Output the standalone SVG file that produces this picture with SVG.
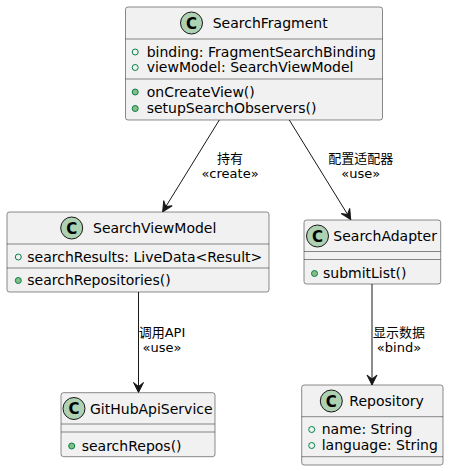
<svg xmlns="http://www.w3.org/2000/svg" width="449" height="471" viewBox="0 0 449 471">
<style>
.box{fill:#F1F1F1;stroke:#181818;stroke-width:0.5;}
.sep{stroke:#181818;stroke-width:0.5;}
.ci{fill:#ADD1B2;stroke:#181818;stroke-width:1;}
.cl{font-family:"DejaVu Sans",sans-serif;font-size:15px;font-weight:bold;fill:#000;text-anchor:middle;}
.tt{font-family:"DejaVu Sans",sans-serif;font-size:14px;fill:#000;}
.mb{font-family:"DejaVu Sans",sans-serif;font-size:14px;fill:#000;}
.fa{fill:none;stroke:#038048;stroke-width:1;}
.fm{fill:#84BE84;stroke:#038048;stroke-width:1;}
.ln{fill:none;stroke:#181818;stroke-width:1;}
.lb{font-family:"DejaVu Sans","Noto Sans CJK SC",sans-serif;font-size:13px;fill:#000;text-anchor:middle;}
</style>
<defs>
<marker id="arr" viewBox="0 0 12 12" refX="11" refY="6" markerWidth="12" markerHeight="12" markerUnits="userSpaceOnUse" orient="auto">
<path d="M1,1 L11,6 L1,11 L5,6 Z" fill="#181818" stroke="#181818" stroke-width="1"/>
</marker>
</defs>

<g id="connectors">
<path class="ln" d="M219.3,120 L162.7,211.7" marker-end="url(#arr)"/>
<path class="ln" d="M289.3,120 L350.7,219.5" marker-end="url(#arr)"/>
<path class="ln" d="M138.5,292 L138.5,392.5" marker-end="url(#arr)"/>
<path class="ln" d="M372,284 L372,385" marker-end="url(#arr)"/>
<text class="lb" x="230" y="162.5">持有</text>
<text class="lb" x="230" y="177.5">«create»</text>
<text class="lb" x="360.7" y="162.5">配置适配器</text>
<text class="lb" x="360.7" y="177.5">«use»</text>
<text class="lb" x="162" y="336.5">调用API</text>
<text class="lb" x="162" y="351.5">«use»</text>
<text class="lb" x="399" y="336.5">显示数据</text>
<text class="lb" x="399" y="351.5">«bind»</text>
</g>

<g id="SearchFragment">
<rect class="box" x="125.5" y="7" width="257" height="113" rx="2.5"/>
<circle class="ci" cx="191.5" cy="23" r="11"/>
<text class="cl" x="191.5" y="28.5">C</text>
<text class="tt" x="212.7" y="28">SearchFragment</text>
<line class="sep" x1="125.5" y1="39" x2="382.5" y2="39"/>
<circle class="fa" cx="135.2" cy="52" r="3"/>
<text class="mb" x="146.7" y="56.5">binding: FragmentSearchBinding</text>
<circle class="fa" cx="135.2" cy="67.5" r="3"/>
<text class="mb" x="146.7" y="72">viewModel: SearchViewModel</text>
<line class="sep" x1="125.5" y1="79" x2="382.5" y2="79"/>
<circle class="fm" cx="135.2" cy="92" r="3"/>
<text class="mb" x="146.7" y="96.5">onCreateView()</text>
<circle class="fm" cx="135.2" cy="108.5" r="3"/>
<text class="mb" x="146.7" y="113">setupSearchObservers()</text>
</g>

<g id="SearchViewModel">
<rect class="box" x="7" y="212" width="262" height="80" rx="2.5"/>
<circle class="ci" cx="71.7" cy="228" r="11"/>
<text class="cl" x="71.7" y="233.5">C</text>
<text class="tt" x="93" y="233">SearchViewModel</text>
<line class="sep" x1="7" y1="244" x2="269" y2="244"/>
<circle class="fa" cx="18.3" cy="257" r="3"/>
<text class="mb" x="27.3" y="261.5">searchResults: LiveData&lt;Result&gt;</text>
<line class="sep" x1="7" y1="268" x2="269" y2="268"/>
<circle class="fm" cx="18.3" cy="280.5" r="3"/>
<text class="mb" x="27.3" y="285">searchRepositories()</text>
</g>

<g id="SearchAdapter">
<rect class="box" x="304" y="220" width="136.7" height="64" rx="2.5"/>
<circle class="ci" cx="317.5" cy="236" r="11"/>
<text class="cl" x="317.5" y="241.5">C</text>
<text class="tt" x="333.3" y="241">SearchAdapter</text>
<line class="sep" x1="304" y1="251.5" x2="440.7" y2="251.5"/>
<line class="sep" x1="304" y1="259.5" x2="440.7" y2="259.5"/>
<circle class="fm" cx="314.5" cy="273.5" r="3"/>
<text class="mb" x="323" y="278">submitList()</text>
</g>

<g id="GitHubApiService">
<rect class="box" x="61" y="392.7" width="154" height="64" rx="2.5"/>
<circle class="ci" cx="74" cy="408.5" r="11"/>
<text class="cl" x="74" y="414">C</text>
<text class="tt" x="90" y="413.5">GitHubApiService</text>
<line class="sep" x1="61" y1="424" x2="215" y2="424"/>
<line class="sep" x1="61" y1="432" x2="215" y2="432"/>
<circle class="fm" cx="71.7" cy="446" r="3"/>
<text class="mb" x="81.7" y="450.5">searchRepos()</text>
</g>

<g id="Repository">
<rect class="box" x="301.7" y="385" width="141.3" height="80" rx="2.5"/>
<circle class="ci" cx="331.3" cy="401" r="11"/>
<text class="cl" x="331.3" y="406.5">C</text>
<text class="tt" x="349.3" y="406">Repository</text>
<line class="sep" x1="301.7" y1="416.7" x2="443" y2="416.7"/>
<circle class="fa" cx="311.7" cy="429.5" r="3"/>
<text class="mb" x="321.7" y="434">name: String</text>
<circle class="fa" cx="311.7" cy="445.5" r="3"/>
<text class="mb" x="321.7" y="450">language: String</text>
<line class="sep" x1="301.7" y1="456.7" x2="443" y2="456.7"/>
</g>
</svg>
